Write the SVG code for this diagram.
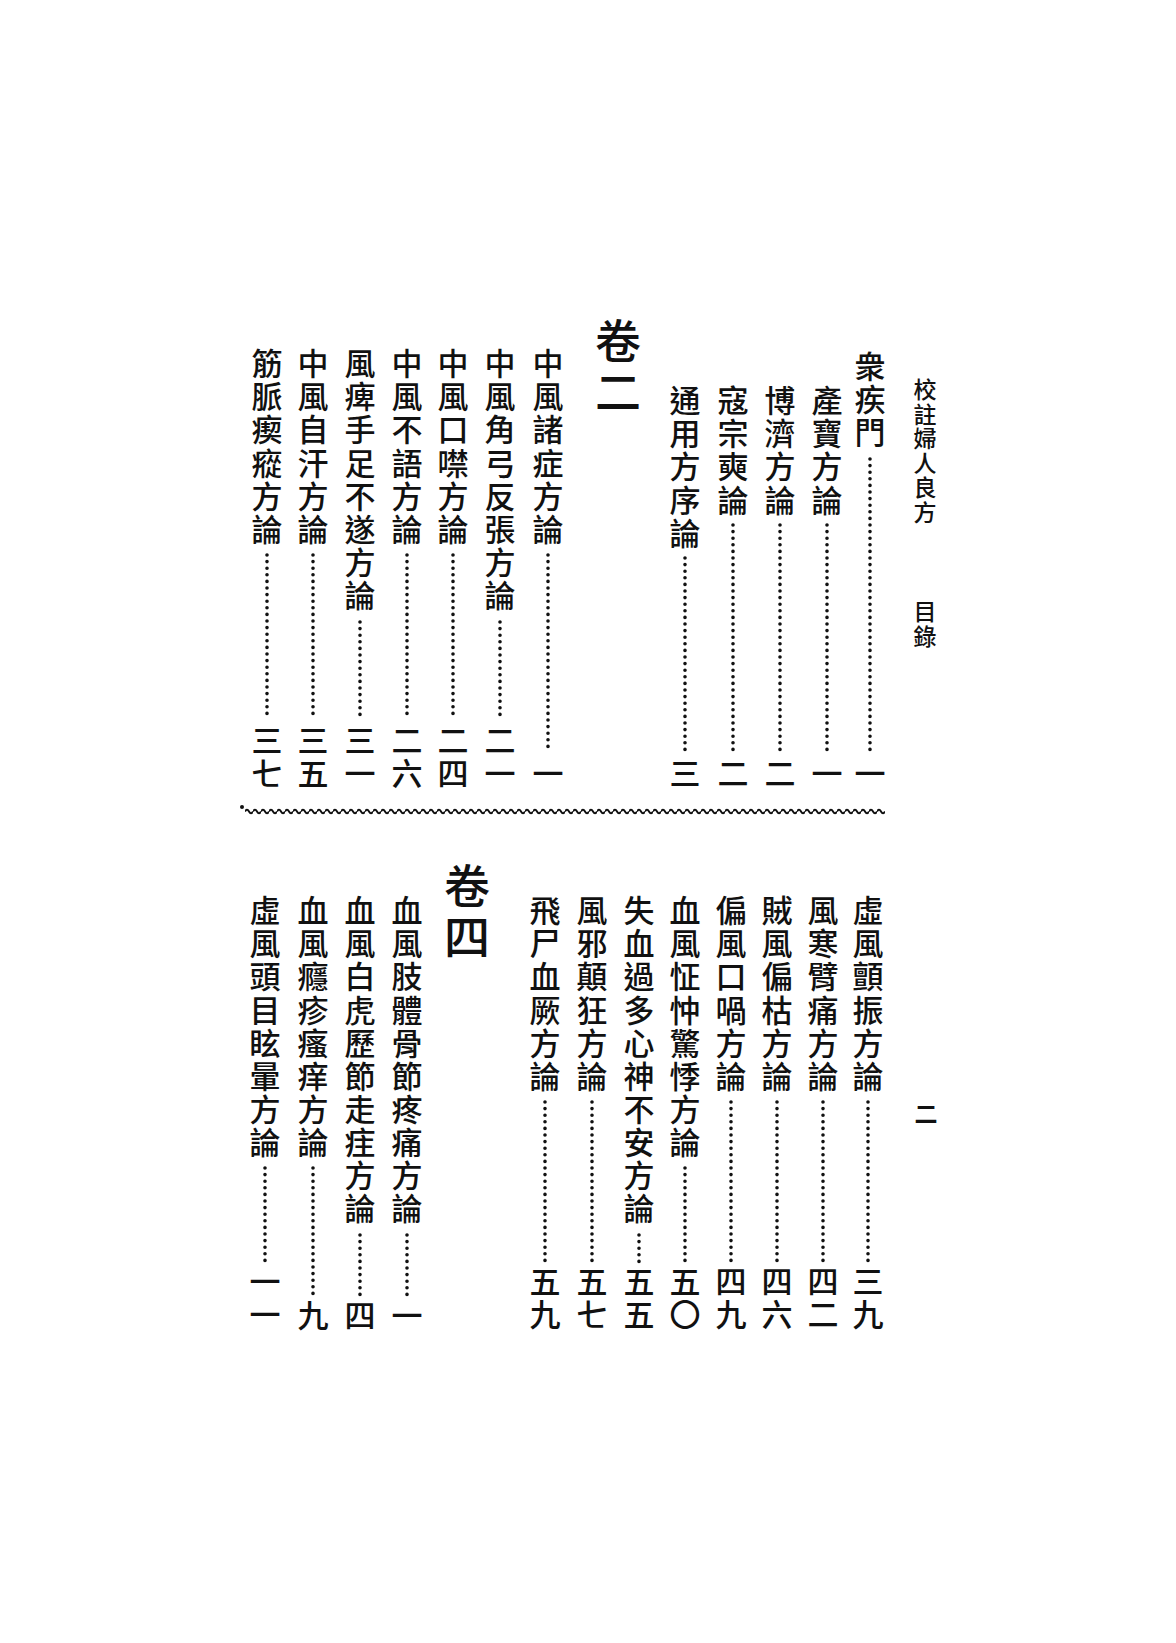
<svg xmlns="http://www.w3.org/2000/svg" width="1176" height="1643" viewBox="0 0 1176 1643">
<defs>
<style>
.t{font-family:"Noto Sans CJK TC","Noto Sans CJK SC",sans-serif;font-size:31px;font-weight:500;letter-spacing:2.1px;writing-mode:vertical-rl;fill:#111;}
.h{font-family:"Noto Sans CJK TC","Noto Sans CJK SC",sans-serif;font-size:23px;font-weight:500;letter-spacing:1.5px;writing-mode:vertical-rl;fill:#111;}
.k{font-family:"Noto Sans CJK TC","Noto Sans CJK SC",sans-serif;font-size:46px;font-weight:500;letter-spacing:5px;writing-mode:vertical-rl;fill:#111;}
.d{stroke:#111;stroke-width:3.6;stroke-dasharray:0 6.6;stroke-linecap:round;fill:none;}
</style>
<pattern id="wave" patternUnits="userSpaceOnUse" x="245" y="807" width="8" height="9">
<path d="M0 4.5 Q2 1 4 4.5 T8 4.5" fill="none" stroke="#111" stroke-width="2"/>
</pattern>
</defs>
<rect width="1176" height="1643" fill="#fff"/>

<g id="header">
<text class="h" x="925" y="378">校註婦人良方</text>
<text class="h" x="925" y="600">目錄</text>
<text class="h" x="926" y="1102" style="font-weight:700">二</text>
</g>

<g id="top-right">
<text class="t" x="870" y="351">衆疾門</text>
<text class="t" x="827" y="385">產寶方論</text>
<text class="t" x="780" y="385">博濟方論</text>
<text class="t" x="733" y="385">寇宗奭論</text>
<text class="t" x="685" y="385">通用方序論</text>
<text class="t" x="870" y="758">一</text>
<text class="t" x="827" y="758">一</text>
<text class="t" x="780" y="758">二</text>
<text class="t" x="733" y="758">二</text>
<text class="t" x="685" y="758">三</text>
</g>

<g id="juan2">
<text class="k" x="618" y="318">卷二</text>
</g>

<g id="top-left">
<text class="t" x="548" y="348">中風諸症方論</text>
<text class="t" x="500" y="348">中風角弓反張方論</text>
<text class="t" x="453" y="348">中風口噤方論</text>
<text class="t" x="407" y="348">中風不語方論</text>
<text class="t" x="360" y="348">風痺手足不遂方論</text>
<text class="t" x="313" y="348">中風自汗方論</text>
<text class="t" x="267" y="348">筋脈瘈瘲方論</text>
<text class="t" x="548" y="758">一</text>
<text class="t" x="500" y="725">二一</text>
<text class="t" x="453" y="725">二四</text>
<text class="t" x="407" y="725">二六</text>
<text class="t" x="360" y="725">三一</text>
<text class="t" x="313" y="725">三五</text>
<text class="t" x="267" y="725">三七</text>
</g>

<g id="separator">
<rect x="245" y="807" width="640" height="9" fill="url(#wave)"/>
<circle cx="242" cy="807" r="2" fill="#111"/>
</g>

<g id="bottom-right">
<text class="t" x="868" y="895">虛風顫振方論</text>
<text class="t" x="823" y="895">風寒臂痛方論</text>
<text class="t" x="777" y="895">賊風偏枯方論</text>
<text class="t" x="731" y="895">偏風口喎方論</text>
<text class="t" x="685" y="895">血風怔忡驚悸方論</text>
<text class="t" x="639" y="895">失血過多心神不安方論</text>
<text class="t" x="592" y="895">風邪顛狂方論</text>
<text class="t" x="545" y="895">飛尸血厥方論</text>
<text class="t" x="868" y="1266">三九</text>
<text class="t" x="823" y="1266">四二</text>
<text class="t" x="777" y="1266">四六</text>
<text class="t" x="731" y="1266">四九</text>
<text class="t" x="685" y="1266">五〇</text>
<text class="t" x="639" y="1266">五五</text>
<text class="t" x="592" y="1266">五七</text>
<text class="t" x="545" y="1266">五九</text>
</g>

<g id="juan4">
<text class="k" x="467" y="863">卷四</text>
</g>

<g id="bottom-left">
<text class="t" x="407" y="895">血風肢體骨節疼痛方論</text>
<text class="t" x="360" y="895">血風白虎歷節走疰方論</text>
<text class="t" x="313" y="895">血風癮疹瘙痒方論</text>
<text class="t" x="265" y="895">虛風頭目眩暈方論</text>
<text class="t" x="407" y="1300">一</text>
<text class="t" x="360" y="1300">四</text>
<text class="t" x="313" y="1300">九</text>
<text class="t" x="265" y="1266">一一</text>
</g>

<g id="leaders">
<line class="d" x1="870" y1="459" x2="870" y2="752"/>
<line class="d" x1="827" y1="525" x2="827" y2="752"/>
<line class="d" x1="780" y1="525" x2="780" y2="752"/>
<line class="d" x1="733" y1="525" x2="733" y2="752"/>
<line class="d" x1="685" y1="558" x2="685" y2="752"/>
<line class="d" x1="548" y1="555" x2="548" y2="752"/>
<line class="d" x1="500" y1="622" x2="500" y2="718"/>
<line class="d" x1="453" y1="555" x2="453" y2="718"/>
<line class="d" x1="407" y1="555" x2="407" y2="718"/>
<line class="d" x1="360" y1="622" x2="360" y2="718"/>
<line class="d" x1="313" y1="555" x2="313" y2="718"/>
<line class="d" x1="267" y1="555" x2="267" y2="718"/>
<line class="d" x1="868" y1="1102" x2="868" y2="1262"/>
<line class="d" x1="823" y1="1102" x2="823" y2="1262"/>
<line class="d" x1="777" y1="1102" x2="777" y2="1262"/>
<line class="d" x1="731" y1="1102" x2="731" y2="1262"/>
<line class="d" x1="685" y1="1168" x2="685" y2="1262"/>
<line class="d" x1="639" y1="1235" x2="639" y2="1262"/>
<line class="d" x1="592" y1="1102" x2="592" y2="1262"/>
<line class="d" x1="545" y1="1102" x2="545" y2="1262"/>
<line class="d" x1="407" y1="1235" x2="407" y2="1297"/>
<line class="d" x1="360" y1="1235" x2="360" y2="1297"/>
<line class="d" x1="313" y1="1168" x2="313" y2="1297"/>
<line class="d" x1="265" y1="1168" x2="265" y2="1262"/>
</g>
</svg>
